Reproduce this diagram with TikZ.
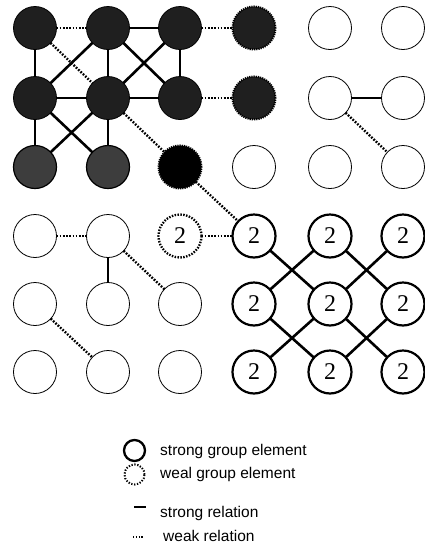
\documentclass[tikz,border=0pt]{standalone}
\usepackage{fontspec}
\setmainfont{Liberation Sans}
\newfontfamily\numfont{Liberation Serif}
\begin{document}
\begin{tikzpicture}[x=1pt,y=-1pt,
  el/.style={circle,minimum size=43pt,inner sep=0pt,outer sep=0pt},
  empty/.style={el,draw,line width=0.8pt},
  dark/.style={el,fill=black!88,draw=black,line width=0.8pt},
  darklight/.style={el,fill=black!76,draw=black,line width=1.2pt},
  darkweak/.style={el,fill=black!88,draw=black,line width=2pt,dash pattern=on 1.2pt off 1pt},
  blackweak/.style={el,fill=black,draw=black,line width=2pt,dash pattern=on 1.2pt off 1pt},
  two/.style={el,draw,line width=2.2pt,font=\numfont\fontsize{24}{24}\selectfont},
  twoweak/.style={el,draw,line width=2.3pt,dash pattern=on 1.5pt off 1.4pt,font=\numfont\fontsize{24}{24}\selectfont},
  strong/.style={line width=2.6pt},
  strongthin/.style={line width=1.5pt},
  weak/.style={line width=2.4pt,dash pattern=on 1.7pt off 1.5pt},
  legtext/.style={anchor=base west,inner sep=0pt,font=\fontsize{15.5}{16}\selectfont}
]
\useasboundingbox (0,0) rectangle (425,547);
% row 1
\node[dark] (n11) at (35,28) {};
\node[dark] (n12) at (108,28) {};
\node[dark] (n13) at (180,28) {};
\node[darkweak] (n14) at (254,28) {};
\node[empty] (n15) at (330,28) {};
\node[empty] (n16) at (403,28) {};
% row 2
\node[dark] (n21) at (35,98) {};
\node[dark] (n22) at (108,98) {};
\node[dark] (n23) at (180,98) {};
\node[darkweak] (n24) at (254,98) {};
\node[empty] (n25) at (330,98) {};
\node[empty] (n26) at (403,98) {};
% row 3
\node[darklight] (n31) at (35,167) {};
\node[darklight] (n32) at (108,167) {};
\node[blackweak] (n33) at (180,167) {};
\node[empty] (n34) at (254,167) {};
\node[empty] (n35) at (330,167) {};
\node[empty] (n36) at (403,167) {};
% row 4
\node[empty] (n41) at (35,236) {};
\node[empty] (n42) at (108,236) {};
\node[twoweak] (n43) at (180,236) {2};
\node[two] (n44) at (254,236) {2};
\node[two] (n45) at (330,236) {2};
\node[two] (n46) at (403,236) {2};
% row 5
\node[empty] (n51) at (35,304) {};
\node[empty] (n52) at (108,304) {};
\node[empty] (n53) at (180,304) {};
\node[two] (n54) at (254,304) {2};
\node[two] (n55) at (330,304) {2};
\node[two] (n56) at (403,304) {2};
% row 6
\node[empty] (n61) at (35,372) {};
\node[empty] (n62) at (108,372) {};
\node[empty] (n63) at (180,372) {};
\node[two] (n64) at (254,372) {2};
\node[two] (n65) at (330,372) {2};
\node[two] (n66) at (403,372) {2};

% top-left cluster
\draw[weak] (n11) -- (n12);
\draw[strong] (n12) -- (n13);
\draw[weak] (n13) -- (n14);
\draw[strong] (n11) -- (n21);
\draw[weak] (n11) -- (n22);
\draw[strongthin] (n12) -- (n22);
\draw[strong] (n12) -- (n21);
\draw[strong] (n12) -- (n23);
\draw[strong] (n13) -- (n22);
\draw[strong] (n13) -- (n23);
\draw[strong] (n21) -- (n22);
\draw[strong] (n22) -- (n23);
\draw[weak] (n23) -- (n24);
\draw[strong] (n21) -- (n31);
\draw[strong] (n21) -- (n32);
\draw[strong] (n22) -- (n31);
\draw[strongthin] (n22) -- (n32);
\draw[weak] (n22) -- (n33);
\draw[weak] (n33) -- (n44);
% top-right
\draw[strong] (n25) -- (n26);
\draw[weak] (n25) -- (n36);
% lower-left
\draw[weak] (n41) -- (n42);
\draw[strong] (n42) -- (n52);
\draw[weak] (n42) -- (n53);
\draw[weak] (n51) -- (n62);
\draw[weak] (n43) -- (n44);
% lower-right
\draw[strong] (n44) -- (n55);
\draw[strong] (n45) -- (n54);
\draw[strong] (n45) -- (n56);
\draw[strong] (n46) -- (n55);
\draw[strong] (n54) -- (n65);
\draw[strong] (n55) -- (n64);
\draw[strong] (n55) -- (n66);
\draw[strong] (n56) -- (n65);

% legend
\node[circle,draw,line width=2.3pt,minimum size=21pt,inner sep=0pt] (lgs) at (134.5,450.5) {};
\node[circle,draw,line width=2pt,dash pattern=on 1.3pt off 1.6pt,minimum size=20pt,inner sep=0pt] (lgw) at (134.5,474.5) {};
\coordinate (lsa) at (134,507);
\coordinate (lsb) at (146,507);
\coordinate (lwa) at (133,537);
\coordinate (lwb) at (144,537);
\draw[line width=2.4pt] (lsa) -- (lsb);
\draw[line width=1.8pt,dash pattern=on 1.4pt off 1.4pt] (lwa) -- (lwb);
\node[legtext] (t1) at (160,455) {strong group element};
\node[legtext] (t2) at (160,478) {weal group element};
\node[legtext] (t3) at (160,517.5) {strong relation};
\node[legtext] (t4) at (163,541) {weak relation};
\end{tikzpicture}
\end{document}
